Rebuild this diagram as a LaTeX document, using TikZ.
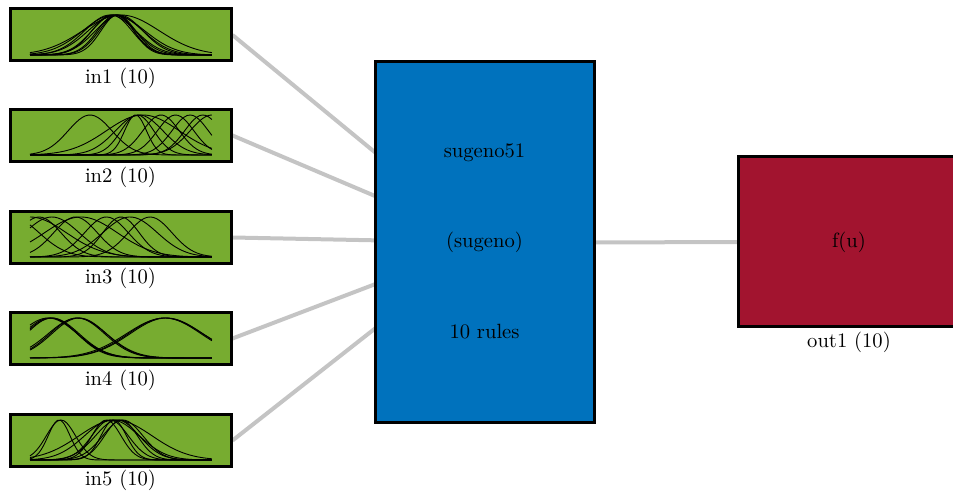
\documentclass[tikz,border=0pt]{standalone}
\usetikzlibrary{backgrounds}
\definecolor{ingreen}{HTML}{77AC30}
\definecolor{rbblue}{HTML}{0072BD}
\definecolor{outred}{HTML}{A2142F}
\definecolor{conngray}{HTML}{C4C4C4}
\newcommand\mfg[2]{\draw[mfline] plot[domain=0:1,samples=60,smooth] (\x,{exp(-((\x-(#1))^2)/(2*(#2)*(#2)))});}
\tikzset{
  inbox/.style={draw=black, line width=1.5pt, fill=ingreen, minimum width=110.5pt, minimum height=26pt, inner sep=0pt},
  rbbox/.style={draw=black, line width=1.5pt, fill=rbblue, minimum width=109.5pt, minimum height=180.5pt, inner sep=0pt},
  outbox/.style={draw=black, line width=1.5pt, fill=outred, minimum width=111pt, minimum height=85pt, inner sep=0pt},
  lbl/.style={font=\fontsize{10.3}{12}\selectfont, inner sep=0pt},
  conn/.style={draw=conngray, line width=2pt},
  mfline/.style={draw=black, line width=0.45pt},
  mfarea/.style={x=91pt, y=20pt}
}
\begin{document}
\begin{tikzpicture}[x=0.5pt,y=-0.5pt]
\clip (0,0) rectangle (953,491);
% input boxes
\node[inbox] (in1) at (120.5,35) {};
\node[inbox] (in2) at (120.5,135.5) {};
\node[inbox] (in3) at (120.5,237.5) {};
\node[inbox] (in4) at (120.5,338.5) {};
\node[inbox] (in5) at (120.5,440.5) {};
\node[lbl] (l1) at (120.5,78) {in1 (10)};
\node[lbl] (l2) at (120.5,177) {in2 (10)};
\node[lbl] (l3) at (120.5,278) {in3 (10)};
\node[lbl] (l4) at (120.5,380) {in4 (10)};
\node[lbl] (l5) at (120.5,480) {in5 (10)};
% rule block
\node[rbbox] (rb) at (484.5,242.5) {};
\node[lbl] (t1) at (484.5,153) {sugeno51};
\node[lbl] (t2) at (484.5,242) {(sugeno)};
\node[lbl] (t3) at (484.5,332) {10 rules};
% output
\node[outbox] (out) at (849,242) {};
\node[lbl] (fu) at (849,242) {f(u)};
\node[lbl] (lo) at (849,342) {out1 (10)};
% connectors
\begin{scope}[on background layer]
\draw[conn] (in1.east) -- (rb.center);
\draw[conn] (in2.east) -- (rb.center);
\draw[conn] (in3.east) -- (rb.center);
\draw[conn] (in4.east) -- (rb.center);
\draw[conn] (in5.east) -- (rb.center);
\draw[conn] (rb.center) -- (out.center);
\end{scope}
% membership functions in1
\begin{scope}[shift={(30,55)},mfarea]
\mfg{0.47}{0.10}\mfg{0.46}{0.12}\mfg{0.48}{0.09}\mfg{0.45}{0.11}\mfg{0.49}{0.13}
\mfg{0.47}{0.15}\mfg{0.50}{0.21}\mfg{0.46}{0.17}\mfg{0.48}{0.10}\mfg{0.44}{0.14}
\end{scope}
% in2
\begin{scope}[shift={(30,155)},mfarea]
\mfg{0.33}{0.12}\mfg{0.58}{0.06}\mfg{0.59}{0.09}\mfg{0.60}{0.13}\mfg{0.62}{0.20}
\mfg{0.72}{0.10}\mfg{0.80}{0.10}\mfg{0.88}{0.10}\mfg{0.95}{0.10}\mfg{1.00}{0.12}
\end{scope}
% in3
\begin{scope}[shift={(30,257)},mfarea]
\mfg{0.00}{0.20}\mfg{0.05}{0.12}\mfg{0.12}{0.15}\mfg{0.25}{0.12}\mfg{0.28}{0.20}
\mfg{0.42}{0.12}\mfg{0.50}{0.10}\mfg{0.55}{0.15}\mfg{0.66}{0.12}\mfg{-0.10}{0.15}
\end{scope}
% in4
\begin{scope}[shift={(30,358)},mfarea]
\mfg{0.11}{0.15}\mfg{0.26}{0.16}\mfg{0.74}{0.20}\mfg{0.12}{0.14}\mfg{0.74}{0.21}
\mfg{0.10}{0.16}\mfg{0.27}{0.15}\mfg{0.75}{0.20}\mfg{0.12}{0.15}\mfg{0.26}{0.15}
\end{scope}
% in5
\begin{scope}[shift={(30,460)},mfarea]
\mfg{0.16}{0.06}\mfg{0.17}{0.08}\mfg{0.42}{0.08}\mfg{0.44}{0.10}\mfg{0.46}{0.07}
\mfg{0.48}{0.12}\mfg{0.50}{0.09}\mfg{0.47}{0.20}\mfg{0.45}{0.15}\mfg{0.51}{0.11}
\end{scope}
\end{tikzpicture}
\end{document}
